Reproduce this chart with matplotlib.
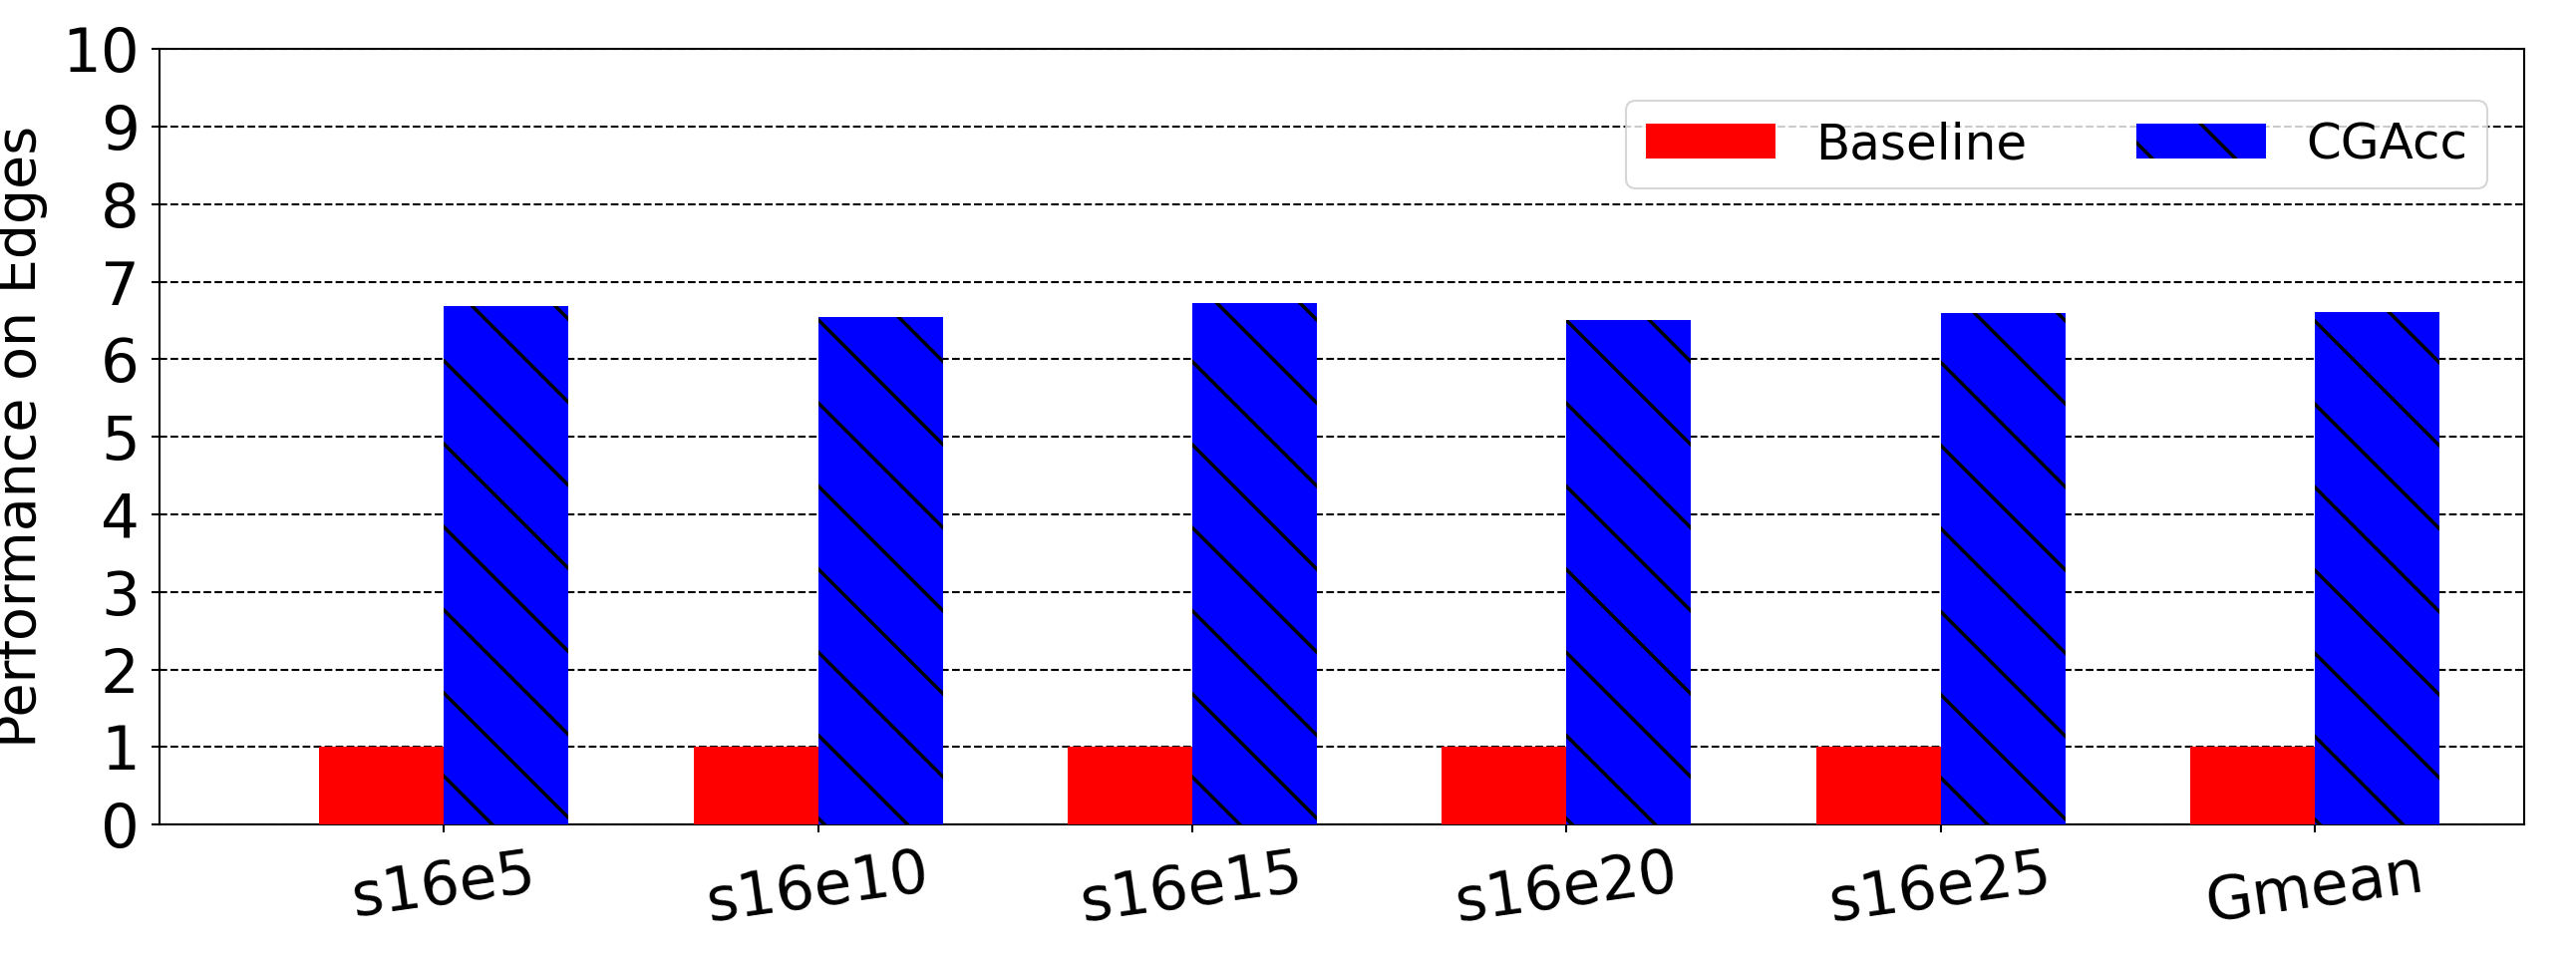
import numpy as np
import matplotlib.pyplot as plt

categories = ['s16e5', 's16e10', 's16e15', 's16e20', 's16e25', 'Gmean']
baseline = [1, 1, 1, 1, 1, 1]
cgacc = [6.68, 6.55, 6.72, 6.50, 6.60, 6.61]

# high dpi so the hatch lines come out sparse like the original
DPI = 250
s = 100 / DPI
fig = plt.figure(figsize=(2584 / DPI, 964 / DPI), dpi=DPI)
ax = fig.add_axes([0.062, 0.142, 0.918, 0.807])

x = np.arange(len(categories))
w = 0.333
ax.bar(x - w / 2, baseline, w, color='red', label='Baseline', zorder=3)
ax.bar(x + w / 2, cgacc, w, color='blue', hatch='\\', edgecolor='black', linewidth=0,
       label='CGAcc', zorder=3)

for sp in ax.spines.values():
    sp.set_linewidth(1.5 * s)
ax.set_ylim(0, 10)
ax.set_yticks(range(11))
ax.set_xlim(-0.76, 5.56)
ax.set_xticks(x)
ax.set_xticklabels(categories, rotation=8)
ax.tick_params(axis='both', labelsize=44 * s, length=6 * s, width=1.5 * s)
ax.yaxis.grid(True, linestyle='--', color='black', linewidth=1.5 * s, zorder=0)
ax.set_ylabel('Performance on Edges', fontsize=40 * s)
leg = ax.legend(loc='upper right', ncol=2, fontsize=36 * s, handlelength=2.6, columnspacing=2.2,
                bbox_to_anchor=(0.995, 0.965))
leg.get_frame().set_linewidth(1.5 * s)

fig.savefig('out.png', dpi=DPI)
